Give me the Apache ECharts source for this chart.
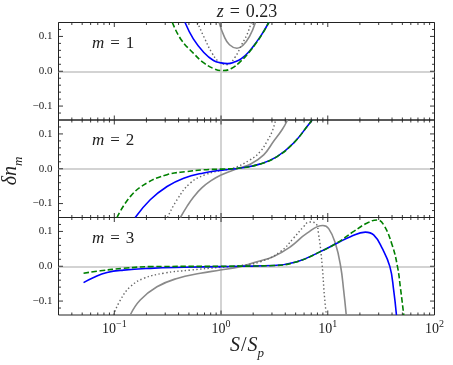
<!DOCTYPE html>
<html>
<head>
<meta charset="utf-8">
<script src="https://cdn.jsdelivr.net/npm/echarts@6/dist/echarts.min.js"></script>
<style>
  html, body { margin: 0; padding: 0; background: #fff; }
  #main { width: 453px; height: 365px; }
</style>
</head>
<body>
<div id="main"></div>
<script>
// axis limits and tick positions
const xMin = 0.03, xMax = 100
const yMin = -0.14, yMax = 0.14
const xMajorTicks = [0.1, 1, 10, 100]
const xMinorTicks = [0.03, 0.04, 0.05, 0.06, 0.07, 0.08, 0.09,
  0.2, 0.3, 0.4, 0.5, 0.6, 0.7, 0.8, 0.9,
  2, 3, 4, 5, 6, 7, 8, 9,
  20, 30, 40, 50, 60, 70, 80, 90]
const yMajorTicks = [-0.1, 0, 0.1]
const yMinorTicks = [-0.12, -0.08, -0.06, -0.04, -0.02, 0.02, 0.04, 0.06, 0.08, 0.12]
const panelM = [1, 2, 3]

// m = 1 : [S/Sp, delta n]
const m1Blue = [[0.46, 0.14], [0.55, 0.093], [0.69, 0.054], [0.85, 0.031], [1.0, 0.024], [1.15, 0.022],
  [1.35, 0.027], [1.55, 0.036], [1.85, 0.058], [2.1, 0.08], [2.4, 0.105], [2.8, 0.14]]
const m1Green = [[0.35, 0.14], [0.42, 0.092], [0.55, 0.052], [0.69, 0.024], [0.88, 0.006], [1.05, 0.002],
  [1.25, 0.008], [1.5, 0.026], [1.85, 0.056], [2.1, 0.078], [2.4, 0.104], [2.8, 0.14]]
const m1Dotted = [[0.6, 0.14], [0.71, 0.091], [0.82, 0.053], [0.95, 0.028], [1.14, 0.019], [1.35, 0.04],
  [1.57, 0.078], [1.75, 0.105], [1.92, 0.14]]
const m1Gray = [[0.96, 0.14], [1.07, 0.1], [1.2, 0.076], [1.41, 0.066], [1.6, 0.074], [1.85, 0.1], [2.1, 0.14]]

// m = 2
const m2Blue = [[0.157, -0.14], [0.217, -0.089], [0.312, -0.051], [0.447, -0.027], [0.687, -0.012], [1.02, -0.004],
  [1.52, 0.002], [2.34, 0.014], [3.35, 0.035], [4.79, 0.074], [6.62, 0.127], [7.13, 0.14]]
const m2Green = [[0.106, -0.14], [0.141, -0.08], [0.202, -0.041], [0.312, -0.017], [0.48, -0.008], [0.687, -0.003],
  [1.0, -0.001], [1.52, 0.002], [2.34, 0.014], [3.35, 0.035], [4.79, 0.074], [6.62, 0.127], [7.13, 0.14]]
const m2Dotted = [[0.315, -0.14], [0.387, -0.089], [0.515, -0.041], [0.713, -0.017], [1.0, -0.005], [1.31, 0.002],
  [1.88, 0.026], [2.34, 0.05], [2.7, 0.079], [3.01, 0.107], [3.25, 0.14]]
const m2Gray = [[0.416, -0.14], [0.48, -0.108], [0.56, -0.079], [0.66, -0.055], [0.8, -0.035], [1.0, -0.018],
  [1.41, 0.0], [1.88, 0.013], [2.51, 0.04], [3.11, 0.079], [3.73, 0.112], [4.2, 0.14]]

// m = 3
const m3Blue = [[0.0515, -0.047], [0.064, -0.032], [0.0855, -0.018], [0.122, -0.011], [0.217, -0.006], [0.447, -0.003],
  [1.0, -0.001], [1.52, 0.0], [3.11, 0.002], [5.15, 0.013], [8.53, 0.042], [12.2, 0.066], [16.3, 0.085],
  [22.5, 0.098], [26.9, 0.09], [32.3, 0.052], [38.2, -0.001], [41.5, -0.07], [44.0, -0.14]]
const m3Green = [[0.0515, -0.02], [0.074, -0.013], [0.122, -0.006], [0.217, -0.001], [1.0, 0.0], [3.11, 0.002],
  [5.15, 0.013], [8.53, 0.042], [12.2, 0.067], [17.5, 0.1], [23.4, 0.124], [29.0, 0.133], [33.4, 0.119],
  [40.1, 0.061], [45.0, -0.001], [48.0, -0.063], [51.5, -0.14]]
const m3Dotted = [[0.098, -0.14], [0.114, -0.097], [0.141, -0.059], [0.188, -0.035], [0.29, -0.02], [0.515, -0.011],
  [0.985, -0.003], [1.5, 0.002], [2.34, 0.013], [3.6, 0.042], [4.79, 0.081], [5.95, 0.114], [6.7, 0.127],
  [7.65, 0.124], [8.22, 0.09], [8.85, 0.004], [9.29, -0.083], [9.7, -0.14]]
const m3Gray = [[0.141, -0.14], [0.175, -0.097], [0.251, -0.059], [0.387, -0.035], [0.64, -0.02], [0.985, -0.011],
  [1.52, -0.001], [2.17, 0.013], [3.11, 0.028], [4.47, 0.056], [6.4, 0.095], [9.0, 0.117], [10.2, 0.108],
  [11.8, 0.065], [13.2, 0.0], [14.1, -0.07], [14.9, -0.14]]

const panels = [
  [m1Gray, m1Dotted, m1Blue, m1Green],
  [m2Gray, m2Dotted, m2Blue, m2Green],
  [m3Gray, m3Dotted, m3Blue, m3Green],
]

const serif = '"Liberation Serif", "DejaVu Serif", serif'
const ink = '#222'
const gridTops = [22.5, 120, 217.5]
const gridH = 97.5
const gridLeft = 58.5
const gridW = 376

const lineStyles = [
  { color: '#8a8a8a', width: 1.6, type: 'solid' },
  { color: '#666666', width: 1.4, type: [1.4, 2.4] },
  { color: '#0000ff', width: 1.6, type: 'solid' },
  { color: '#008000', width: 1.6, type: [5.5, 2.6] },
]

function near(a, b) { return Math.abs(a - b) < 1e-9 }

function yLabel(v) {
  const t = yMajorTicks.find(t => near(t, v))
  if (t === undefined) return ''
  if (t === 0) return '0.0'
  return (t < 0 ? '\u2212' : '') + Math.abs(t).toFixed(1)
}

function xLabel(v) {
  const t = xMajorTicks.find(t => Math.abs(t - v) / t < 1e-6)
  if (t === undefined) return ''
  const p = Math.round(Math.log10(t))
  return '{b|10}{s|' + (p < 0 ? '\u2212' : '') + Math.abs(p) + '}'
}

// ticks drawn inward on all four sides of a panel
function tickSeries(gi, vals, axis, len) {
  return {
    type: 'custom', xAxisIndex: gi, yAxisIndex: gi, silent: true, z: 4, clip: false,
    data: vals.map(v => (axis === 'x' ? [v, 0] : [1, v])),
    renderItem(params, api) {
      const st = { stroke: ink, lineWidth: 0.9 }
      if (axis === 'x') {
        const v = api.value(0)
        const a = api.coord([v, yMin]), b = api.coord([v, yMax])
        return { type: 'group', children: [
          { type: 'line', shape: { x1: a[0], y1: a[1], x2: a[0], y2: a[1] - len }, style: st },
          { type: 'line', shape: { x1: b[0], y1: b[1], x2: b[0], y2: b[1] + len }, style: st },
        ] }
      }
      const v = api.value(1)
      const a = api.coord([xMin, v]), b = api.coord([xMax, v])
      return { type: 'group', children: [
        { type: 'line', shape: { x1: a[0], y1: a[1], x2: a[0] + len, y2: a[1] }, style: st },
        { type: 'line', shape: { x1: b[0], y1: b[1], x2: b[0] - len, y2: b[1] }, style: st },
      ] }
    },
  }
}

const grid = [], xAxis = [], yAxis = [], series = [], graphic = []

panels.forEach((curves, gi) => {
  grid.push({ left: gridLeft, top: gridTops[gi], width: gridW, height: gridH, show: true,
    borderColor: ink, borderWidth: 1, backgroundColor: 'transparent' })
  xAxis.push({
    type: 'log', logBase: 10, gridIndex: gi, min: xMin, max: xMax,
    axisLine: { show: false }, axisTick: { show: false }, splitLine: { show: false }, minorTick: { show: false },
    axisLabel: {
      show: gi === 2, margin: 4, color: ink, formatter: xLabel,
      rich: {
        b: { fontFamily: serif, fontSize: 14, color: ink, verticalAlign: 'bottom' },
        s: { fontFamily: serif, fontSize: 10, color: ink, verticalAlign: 'bottom', padding: [0, 0, 7, 0] },
      },
    },
  })
  yAxis.push({
    type: 'value', gridIndex: gi, min: yMin, max: yMax, splitNumber: 3,
    axisLine: { show: false }, axisTick: { show: false }, splitLine: { show: false },
    axisLabel: { margin: 6, color: ink, fontFamily: serif, fontSize: 11, formatter: yLabel },
  })
  curves.forEach((data, ci) => {
    const s = {
      type: 'line', xAxisIndex: gi, yAxisIndex: gi, data: data, symbol: 'none', showSymbol: false,
      smooth: 0.45, clip: true, silent: true, z: 3,
      lineStyle: lineStyles[ci],
    }
    if (ci === 0) {
      s.markLine = {
        silent: true, symbol: 'none', z: 1, label: { show: false },
        lineStyle: { color: '#c4c4c4', width: 1.5, type: 'solid' },
        data: [{ xAxis: 1 }, { yAxis: 0 }],
      }
    }
    series.push(s)
  })
  series.push(tickSeries(gi, xMajorTicks, 'x', 4.5))
  series.push(tickSeries(gi, xMinorTicks, 'x', 2.5))
  series.push(tickSeries(gi, yMajorTicks, 'y', 4.5))
  series.push(tickSeries(gi, yMinorTicks, 'y', 2.5))

  graphic.push({
    type: 'text', x: 92, y: gridTops[gi] + 21, silent: true,
    style: {
      text: '{i|m}{e|=}' + panelM[gi], fill: ink, fontFamily: serif, fontSize: 17,
      textAlign: 'left', textVerticalAlign: 'middle', align: 'left', verticalAlign: 'middle',
      rich: {
        i: { fontFamily: serif, fontSize: 17, fontStyle: 'italic', fill: ink },
        e: { fontFamily: serif, fontSize: 17, fill: ink, padding: [0, 6, 0, 6] },
      },
    },
  })
})

graphic.push({
  type: 'text', x: 247, y: 12, silent: true,
  style: {
    text: '{i|z}{e|=}0.23', fill: ink, fontFamily: serif, fontSize: 18,
    textAlign: 'center', textVerticalAlign: 'middle', align: 'center', verticalAlign: 'middle',
    rich: {
      i: { fontFamily: serif, fontSize: 18, fontStyle: 'italic', fill: ink },
      e: { fontFamily: serif, fontSize: 18, fill: ink, padding: [0, 6, 0, 6] },
    },
  },
})
graphic.push({
  type: 'text', x: 247, y: 348, silent: true,
  style: {
    text: '{i|S}{n|/}{i|S}{sub|p}', fill: ink,
    textAlign: 'center', textVerticalAlign: 'middle', align: 'center', verticalAlign: 'middle',
    rich: {
      i: { fontFamily: serif, fontSize: 20, fontStyle: 'italic', fill: ink, verticalAlign: 'bottom', padding: [0, 0, 4, 0] },
      n: { fontFamily: serif, fontSize: 20, fill: ink, verticalAlign: 'bottom', padding: [0, 1, 4, 1] },
      sub: { fontFamily: serif, fontSize: 13, fontStyle: 'italic', fill: ink, verticalAlign: 'bottom' },
    },
  },
})
graphic.push({
  type: 'text', x: 13, y: 171, rotation: Math.PI / 2, silent: true,
  style: {
    text: '{i|\u03b4n}{sub|m}', fill: ink,
    textAlign: 'center', textVerticalAlign: 'middle', align: 'center', verticalAlign: 'middle',
    rich: {
      i: { fontFamily: serif, fontSize: 20, fontStyle: 'italic', fill: ink, verticalAlign: 'bottom', padding: [0, 0, 4, 0] },
      sub: { fontFamily: serif, fontSize: 13, fontStyle: 'italic', fill: ink, verticalAlign: 'bottom' },
    },
  },
})

const myChart = echarts.init(document.getElementById('main'))
myChart.setOption({
  animation: false,
  backgroundColor: '#fff',
  grid, xAxis, yAxis, series, graphic,
})
</script>
</body>
</html>
